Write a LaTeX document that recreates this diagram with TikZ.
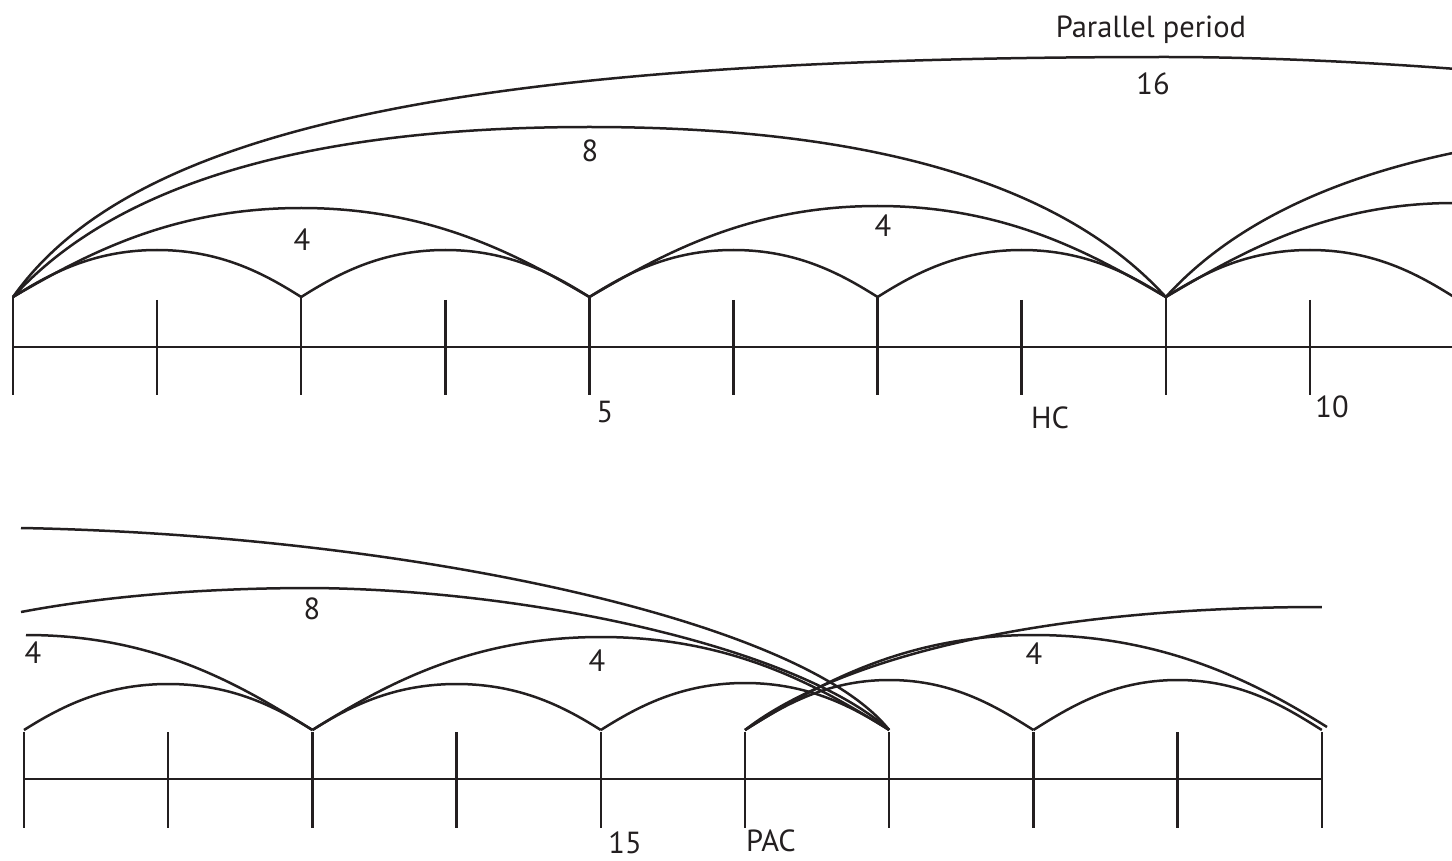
\documentclass[tikz,border=0pt]{standalone}
\usepackage{fontspec}
\setmainfont{PT Sans}
\usetikzlibrary{calc}
\definecolor{ink}{RGB}{35,31,32}
\begin{document}
\begin{tikzpicture}[x=1pt,y=-1pt,
  ln/.style={draw=ink,line width=2.5pt},
  lbl/.style={font=\fontsize{30.5}{35}\selectfont,text=ink,inner sep=0pt,text height=21pt,text depth=0pt}]
\useasboundingbox (0,0) rectangle (1452,861);
% ---------------- top row ----------------
\begin{scope}
\clip (0,0) rectangle (1452,440);
\foreach \i in {0,...,16} \coordinate (T\i) at ({13+144.1*\i},297);
\coordinate (TL) at (13,347);
\coordinate (TR) at (1452,347);
\draw[ln] (TL) -- (TR);
\foreach \i in {0,2,4,6,8} \draw[ln] (T\i) -- ++(0,98);
\foreach \i in {1,3,5,7,9} \draw[ln] (T\i) ++(0,3) -- ++(0,95);
% 2-beat arcs
\foreach \a/\p/\b in {0/1/2,2/3/4,4/5/6,6/7/8,8/9/10}
  \draw[ln] (T\a) .. controls +(35,-22) and +(-65,0) .. ($(T\p)+(0,-47)$)
                  .. controls +(65,0) and +(-35,-22) .. (T\b);
% 4-beat arcs
\foreach \a/\p/\b/\h in {0/2/4/89,4/6/8/91,8/10/12/94}
  \draw[ln] (T\a) .. controls +(72,-42) and +(-130,0) .. ($(T\p)+(0,-\h)$)
                  .. controls +(130,0) and +(-72,-42) .. (T\b);
% 8-beat arcs
\draw[ln] (T0) .. controls +(100,-110) and +(-290,0) .. ($(T4)+(0,-170)$)
               .. controls +(290,0) and +(-100,-110) .. (T8)
               .. controls +(100,-110) and +(-290,0) .. ($(T12)+(0,-170)$);
% 16-beat arc
\draw[ln] (T0) .. controls +(120,-170) and +(-700,0) .. ($(T8)+(0,-240)$)
               .. controls +(350,0) and +(-120,-170) .. (T16);
\end{scope}
\node[lbl] (pp) at (1151,27) {Parallel period};
\node[lbl] (n16) at (1153,84) {16};
\node[lbl] (n8t) at (590,151) {8};
\node[lbl] (n4a) at (302,240) {4};
\node[lbl] (n4b) at (883,226) {4};
\node[lbl] (n5) at (605,412) {5};
\node[lbl] (hc) at (1050,418) {HC};
\node[lbl] (n10) at (1332,407) {10};
% ---------------- bottom row ----------------
\foreach \j in {0,...,9} \coordinate (B\j) at ({24+144.2*\j},730);
\coordinate (BL) at (24,779);
\coordinate (BR) at (1322,779);
\draw[ln] (BL) -- (BR);
\foreach \j in {0,...,9} \draw[ln] (B\j) ++(0,2) -- ++(0,96);
% 2-beat arcs
\foreach \a/\p/\b/\h in {0/1/2/46,2/3/4/46,4/5/6/47,5/6/7/50,7/8/9/50}
  \draw[ln] (B\a) .. controls +(35,-22) and +(-65,0) .. ($(B\p)+(0,-\h)$)
                  .. controls +(65,0) and +(-35,-22) .. (B\b);
% 4-beat arcs
\coordinate (Q4a) at (26,635);
\coordinate (B9r) at (1327,727);
\draw[ln] (Q4a) .. controls +(130,0) and +(-72,-45) .. (B2);
\draw[ln] (B2) .. controls +(72,-45) and +(-130,0) .. ($(B4)+(0,-93)$)
               .. controls +(130,0) and +(-72,-45) .. (B6);
\draw[ln] (B5) .. controls +(72,-45) and +(-130,0) .. ($(B7)+(0,-95)$)
               .. controls +(130,0) and +(-72,-45) .. (B9r);
% 8-beat arcs
\coordinate (Q8a) at (21,612);
\draw[ln] (Q8a) .. controls +(90,-17) and +(-100,0) .. ($(B2)+(0,-142)$)
                .. controls +(228,2) and +(-89,-80) .. (B6);
\draw[ln] (B5) .. controls +(70,-55) and +(-330,0) .. ($(B9)+(0,-123)$);
% 16-beat arc
\coordinate (Q16a) at (21,528);
\draw[ln] (Q16a) .. controls +(379,7) and +(-89,-112) .. (B6);
\node[lbl] (n4c) at (33,653) {4};
\node[lbl] (n8b) at (312,609) {8};
\node[lbl] (n4d) at (597,661) {4};
\node[lbl] (n4e) at (1034,654) {4};
\node[lbl] (n15) at (625,843) {15};
\node[lbl] (pac) at (771,841) {PAC};
\end{tikzpicture}
\end{document}
